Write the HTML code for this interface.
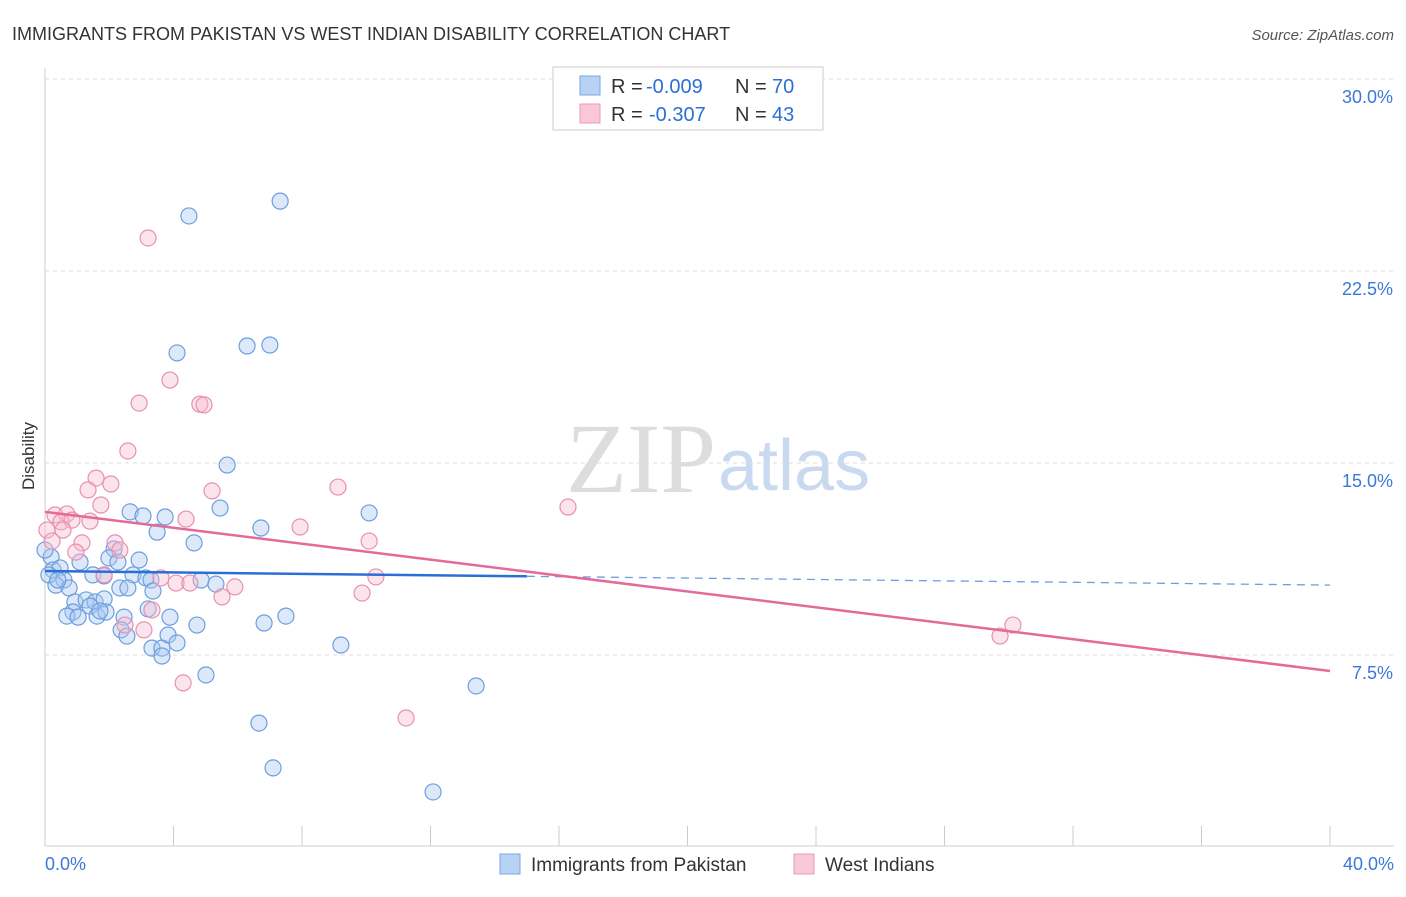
<!DOCTYPE html>
<html><head><meta charset="utf-8"><style>
body{margin:0;background:#fff;font-family:"Liberation Sans",sans-serif}
svg text{font-family:"Liberation Sans",sans-serif}
</style></head><body>
<svg id="c" width="1406" height="892">
<text x="12" y="40" font-size="18" fill="#333">IMMIGRANTS FROM PAKISTAN VS WEST INDIAN DISABILITY CORRELATION CHART</text>
<text x="1394" y="40" font-size="15" fill="#555" font-style="italic" text-anchor="end">Source: ZipAtlas.com</text>
<text x="34" y="456" font-size="17" fill="#333" transform="rotate(-90 34 456)" text-anchor="middle">Disability</text>
<text x="716" y="492" font-size="100" fill="#ddd" text-anchor="end" style="font-family:'Liberation Serif',serif">ZIP</text>
<text x="718" y="490" font-size="72" fill="#c9daf0">atlas</text>
<g id="grid"></g><g id="pts"></g><g id="lines"></g>
<g>
<rect x="553" y="67" width="270" height="63" fill="#fff" stroke="#ccc"/>
<rect x="580" y="76" width="20" height="19" fill="#b8d2f4" stroke="#7aa6e0"/>
<rect x="580" y="104" width="20" height="19" fill="#f9c8d8" stroke="#eb9ab8"/>
<text x="611" y="93" font-size="20" fill="#333">R =</text>
<text x="646" y="93" font-size="20" fill="#2a6fd6">-0.009</text>
<text x="735" y="93" font-size="20" fill="#333">N =</text>
<text x="772" y="93" font-size="20" fill="#2a6fd6">70</text>
<text x="611" y="121" font-size="20" fill="#333">R =</text>
<text x="649" y="121" font-size="20" fill="#2a6fd6">-0.307</text>
<text x="735" y="121" font-size="20" fill="#333">N =</text>
<text x="772" y="121" font-size="20" fill="#2a6fd6">43</text>
</g>
<g>
<rect x="500" y="854" width="20" height="20" fill="#b8d2f4" stroke="#7aa6e0"/>
<text x="531" y="871" font-size="19" fill="#333">Immigrants from Pakistan</text>
<rect x="794" y="854" width="20" height="20" fill="#f9c8d8" stroke="#eb9ab8"/>
<text x="825" y="871" font-size="19" fill="#333">West Indians</text>
</g>
</svg>
<script>
const yTicks=[7.5,15,22.5,30];
const yTickLabels=["7.5%","15.0%","22.5%","30.0%"];
const xTickLabels=["0.0%","40.0%"];
const blueX=[4.48,7.32,4.11,6.29,7.0,5.67,5.45,6.72,10.09,2.65,3.05,3.74,3.49,4.64,2.15,2.93,1.99,2.27,0.19,0.25,0.47,0.59,0.34,0.75,1.09,1.49,1.84,2.74,3.14,3.3,2.33,2.58,3.36,4.86,5.32,0.93,1.28,1.56,1.84,1.4,0.87,0.68,1.03,1.62,1.9,2.46,1.71,3.89,3.21,4.73,6.82,7.5,2.37,2.55,3.83,3.33,3.64,4.11,3.64,5.01,9.21,13.42,6.66,7.1,12.08,0,0.12,0.4];
const blueY=[24.65,25.23,19.3,19.57,19.61,14.92,13.24,12.46,13.05,13.09,12.93,12.89,12.3,11.88,11.64,11.21,11.29,11.13,11.33,10.82,10.9,10.43,10.23,10.12,11.13,10.63,10.59,10.63,10.51,10.43,10.12,10.12,10.0,10.43,10.27,9.57,9.65,9.57,9.69,9.41,9.18,9.02,8.98,9.02,9.18,8.98,9.22,8.98,9.3,8.67,8.75,9.02,8.48,8.24,8.28,7.77,7.77,7.97,7.46,6.72,7.89,6.29,4.84,3.09,2.15,11.6,10.63,10.43];
const pinkX=[3.21,3.89,2.93,4.82,4.95,2.58,1.59,2.05,1.34,5.2,9.12,16.28,1.74,0.31,0.68,0.5,0.84,1.4,4.39,7.94,0.06,0.56,0.22,1.15,2.18,2.33,0.96,10.09,1.84,3.61,4.08,4.51,5.91,5.51,10.3,9.87,3.33,2.49,3.08,30.13,29.73,4.3,11.24];
const pinkY=[23.79,18.24,17.34,17.3,17.27,15.47,14.41,14.18,13.95,13.91,14.06,13.28,13.36,12.97,13.01,12.7,12.77,12.73,12.81,12.5,12.38,12.38,11.95,11.88,11.88,11.6,11.52,11.95,10.63,10.51,10.31,10.31,10.16,9.77,10.55,9.92,9.26,8.67,8.48,8.67,8.24,6.41,5.04];
const blueTrend=[10.78,10.23]; const blueSolidEnd=15;
const pinkTrend=[13.09,6.875];
const NS="http://www.w3.org/2000/svg";
const X=v=>45+v*32.125, Y=v=>655-(v-7.5)*25.6;
function mk(t,a,p){const e=document.createElementNS(NS,t);for(const k in a)e.setAttribute(k,a[k]);p.appendChild(e);return e;}
const svg=document.getElementById('c'),grid=document.getElementById('grid'),pts=document.getElementById('pts'),lines=document.getElementById('lines');
yTicks.forEach((t,i)=>{const l=mk('line',{x1:45,x2:1394,y1:Y(t),y2:Y(t),stroke:'#ddd','stroke-dasharray':'4,4'},grid);


const tx=mk('text',{x:1393,y:Y(t)+24,'font-size':18,fill:'#3b78d8','text-anchor':'end'},grid);tx.textContent=yTickLabels[i];

});
const ax=mk('line',{x1:45,x2:45,y1:68,y2:846,stroke:'#ccc'},grid);


const bx=mk('line',{x1:45,x2:1394,y1:846,y2:846,stroke:'#ccc'},grid);


for(let i=0;i<=10;i++){const t=mk('line',{x1:X(i*4),x2:X(i*4),y1:826,y2:846,stroke:'#ccc'},grid);

}
[[0,'start',45],[40,'end',1394]].forEach((d,i)=>{const t=mk('text',{x:d[2],y:870,'font-size':18,fill:'#3b78d8','text-anchor':d[1]},grid);t.textContent=xTickLabels[i];

});
function dots(xs,ys,fill,stroke,name){xs.forEach((x,i)=>{const c=mk('circle',{cx:X(x),cy:Y(ys[i]),r:8,fill:fill,'fill-opacity':0.4,stroke:stroke,'stroke-width':1.2},pts);

});}
dots(blueX,blueY,'#a9c8f0','#6c9ee0','pakistan-point');
dots(pinkX,pinkY,'#f8bcd0','#e890b0','west-indian-point');
const by=v=>blueTrend[0]+(blueTrend[1]-blueTrend[0])*v/40;
const b1=mk('line',{x1:X(0),y1:Y(by(0)),x2:X(blueSolidEnd),y2:Y(by(blueSolidEnd)),stroke:'#2a6fd6','stroke-width':2.5},lines);


const b2=mk('line',{x1:X(blueSolidEnd),y1:Y(by(blueSolidEnd)),x2:X(40),y2:Y(by(40)),stroke:'#6c9ee0','stroke-width':1.3,'stroke-dasharray':'8,6'},lines);


const p1=mk('line',{x1:X(0),y1:Y(pinkTrend[0]),x2:X(40),y2:Y(pinkTrend[1]),stroke:'#e46a9a','stroke-width':2.5},lines);


</script>
</body></html>
